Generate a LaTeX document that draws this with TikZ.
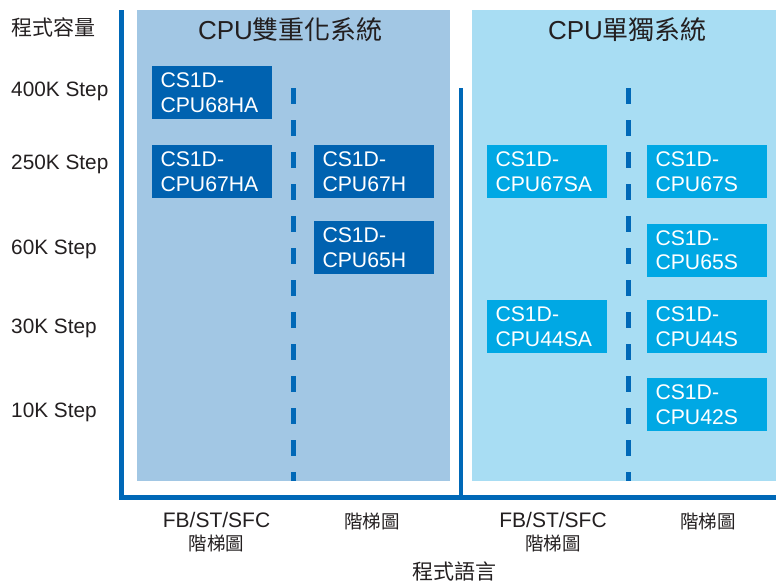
\documentclass[tikz,border=0pt]{standalone}
\usepackage{fontspec}
\setmainfont{Liberation Sans}
\newfontfamily\cjk{Noto Sans CJK TC}
\usetikzlibrary{positioning}
\definecolor{axisblue}{RGB}{0,104,183}
\definecolor{paneldual}{RGB}{162,199,228}
\definecolor{panelsingle}{RGB}{168,221,243}
\definecolor{boxdark}{RGB}{0,98,176}
\definecolor{boxcyan}{RGB}{0,168,228}
\definecolor{txtgray}{RGB}{35,31,32}

\begin{document}
\begin{tikzpicture}[x=1pt,y=-1pt,
    dbox/.style={fill=boxdark,text=white,minimum width=120pt,minimum height=53pt,
      text width=103pt,inner xsep=8.5pt,align=left,font=\fontsize{21.2}{24.5}\selectfont},
    cbox/.style={dbox,fill=boxcyan},
    ylab/.style={anchor=base west,inner sep=0pt,text=txtgray,font=\fontsize{20.8}{24}\selectfont},
    xlab/.style={align=center,inner sep=0pt,text=txtgray,font=\fontsize{21}{23}\selectfont},
    title/.style={inner sep=0pt,text=txtgray,font=\fontsize{26}{30}\selectfont},
    axis/.style={draw=axisblue,line width=4.5pt},
    dashline/.style={draw=axisblue,line width=5pt,dash pattern=on 16pt off 16pt}]
        \useasboundingbox (0,0) rectangle (776,584);

        % panels
        \fill[paneldual] (137,10) rectangle (450,481);
        \fill[panelsingle] (472,10) rectangle (776,481);

        % dividers
        \draw[dashline] (293.3,88) -- (293.3,481);
        \draw[dashline] (628.3,88) -- (628.3,481);

        % axes
        \draw[axis] (121.5,10) -- (121.5,497.5) -- (776,497.5);
        \draw[axis] (461,88) -- (461,497.5);

        % titles
        \node[title] (tdual) at (290.5,30) {CPU{\cjk 雙重化系統}};
        \node[title] (tsingle) at (627.5,30) {CPU{\cjk 單獨系統}};

        % capacity labels
        \node[ylab,font=\cjk\fontsize{21}{24}\selectfont] (cap) at (11,35) {程式容量};
        \node[ylab] (s400) at (11,96) {400K Step};
        \node[ylab] (s250) at (11,169) {250K Step};
        \node[ylab] (s60) at (11,254) {60K Step};
        \node[ylab] (s30) at (11,333) {30K Step};
        \node[ylab] (s10) at (11,417) {10K Step};

        % CPU units
        \node[dbox] (h68a) at (212,92.5) {CS1D-\\CPU68HA};
        \node[dbox,below of=h68a,node distance=79pt] (h67a) {CS1D-\\CPU67HA};
        \node[dbox,right of=h67a,node distance=162pt] (h67) {CS1D-\\CPU67H};
        \node[dbox,below of=h67,node distance=76pt] (h65) {CS1D-\\CPU65H};
        \node[cbox,right of=h67,node distance=173pt] (s67a) {CS1D-\\CPU67SA};
        \node[cbox,right of=s67a,node distance=160pt] (s67) {CS1D-\\CPU67S};
        \node[cbox,below of=s67,node distance=78.5pt] (s65) {CS1D-\\CPU65S};
        \node[cbox,below of=s67a,node distance=155pt] (s44a) {CS1D-\\CPU44SA};
        \node[cbox,below of=s65,node distance=76.5pt] (s44) {CS1D-\\CPU44S};
        \node[cbox,below of=s44,node distance=78pt] (s42) {CS1D-\\CPU42S};

        % language labels
        \node[xlab] (lfb) at (216.5,532) {FB/ST/SFC\\{\cjk\fontsize{18.5}{23}\selectfont 階梯圖}};
        \node[xlab,font=\cjk\fontsize{18.5}{23}\selectfont] (lld) at (372,521) {階梯圖};
        \node[xlab] (rfb) at (553,532) {FB/ST/SFC\\{\cjk\fontsize{18.5}{23}\selectfont 階梯圖}};
        \node[xlab,font=\cjk\fontsize{18.5}{23}\selectfont] (rld) at (708,521) {階梯圖};
        \node[xlab,font=\cjk\fontsize{21}{24}\selectfont] (lang) at (454,571) {程式語言};
\end{tikzpicture}
\end{document}
